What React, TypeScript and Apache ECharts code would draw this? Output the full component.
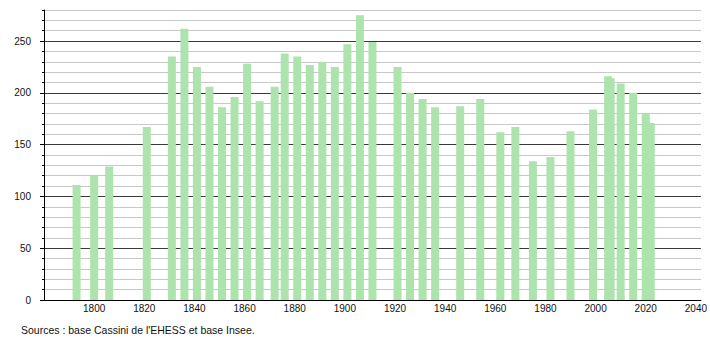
import React, { useEffect, useRef } from "react";
import * as echarts from "echarts";

const years = [
  1793, 1800, 1806, 1821, 1831, 1836, 1841, 1846, 1851, 1856, 1861, 1866, 1872,
  1876, 1881, 1886, 1891, 1896, 1901, 1906, 1911, 1921, 1926, 1931, 1936, 1946,
  1954, 1962, 1968, 1975, 1982, 1990, 1999, 2005, 2006, 2010, 2015, 2020, 2022,
];
const population = [
  111, 120, 129, 167, 235, 262, 225, 206, 186, 196, 228, 192, 206, 238, 235,
  227, 230, 225, 247, 275, 249, 225, 200, 194, 186, 187, 194, 162, 167, 134,
  138, 163, 184, 216, 214, 209, 200, 180, 171,
];
const xTickLabels = [1800, 1820, 1840, 1860, 1880, 1900, 1920, 1940, 1960, 1980, 2000, 2020, 2040];
const yTickLabels = [0, 50, 100, 150, 200, 250];
const sourceText = "Sources : base Cassini de l'EHESS et base Insee.";

const FONT = "'Liberation Sans', Arial, sans-serif";

export default function App() {
  const ref = useRef<HTMLDivElement>(null);
  useEffect(() => {
    if (!ref.current) return;
    const chart = echarts.init(ref.current, null, { renderer: "svg" });
    chart.setOption({
      animation: false,
      backgroundColor: "#ffffff",
      textStyle: { fontFamily: FONT },
      grid: { left: 44, right: 9, top: 10, bottom: 40, containLabel: false },
      xAxis: {
        type: "value",
        min: 1780,
        max: 2042,
        interval: 20,
        axisLine: { show: true, lineStyle: { color: "#000", width: 1 } },
        axisTick: { show: false },
        splitLine: { show: false },
        axisLabel: {
          fontSize: 10,
          color: "#111",
          fontFamily: FONT,
          margin: 3,
          formatter: (v: number) => (xTickLabels.includes(v) ? String(v) : ""),
        },
      },
      yAxis: [
        {
          type: "value",
          min: 0,
          max: 280,
          interval: 10,
          axisLine: { show: true, lineStyle: { color: "#000", width: 1 } },
          axisTick: { show: true, length: 2, lineStyle: { color: "#000" } },
          axisLabel: {
            fontSize: 10,
            color: "#111",
            fontFamily: FONT,
            margin: 13,
            formatter: (v: number) => (yTickLabels.includes(v) ? String(v) : ""),
          },
          splitLine: {
            show: true,
            lineStyle: {
              width: 1,
              color: ["#3a3a3a", "#c8c8c8", "#c8c8c8", "#c8c8c8", "#c8c8c8"],
            },
          },
        },
        {
          type: "value",
          min: 0,
          max: 280,
          interval: 50,
          position: "left",
          axisLine: { show: false },
          axisTick: {
            show: true,
            length: 4,
            lineStyle: { color: "#000" },
            customValues: yTickLabels,
          },
          axisLabel: { show: false },
          splitLine: { show: false },
        },
      ],
      series: [
        {
          type: "bar",
          yAxisIndex: 0,
          barWidth: 8,
          data: years.map((y, i) => [y, population[i]]),
          itemStyle: { color: "#ade3ad" },
          emphasis: { disabled: true },
          silent: true,
        },
      ],
      graphic: [
        {
          type: "text",
          left: 21,
          top: 324,
          style: {
            text: sourceText,
            fontSize: 10.5,
            fontFamily: FONT,
            fill: "#111",
          },
        },
      ],
    });
    return () => chart.dispose();
  }, []);
  return (
    <div
      ref={ref}
      style={{ position: "absolute", left: 0, top: 0, width: 710, height: 340 }}
    />
  );
}
